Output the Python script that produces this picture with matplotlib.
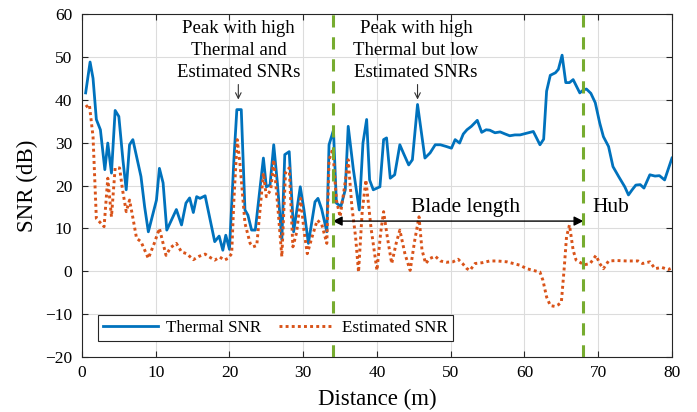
import matplotlib
matplotlib.use("Agg")
import matplotlib.pyplot as plt

# Thermal SNR along the blade (distance in m, SNR in dB)
thermal_x = [0.5, 1.1, 1.5, 1.95, 2.5, 3.1, 3.5, 4.0, 4.5, 5.0,
             5.55, 6.0, 6.45, 6.9, 8.0, 8.5, 9.0, 10.1, 10.5, 11.0,
             11.5, 12.8, 13.5, 14.1, 14.6, 15.1, 15.55, 16.0, 16.7, 17.4,
             18.0, 18.6, 19.1, 19.5, 20.0, 20.6, 21.0, 21.6, 22.1, 22.5,
             23.0, 23.5, 24.6, 25.0, 25.5, 26.0, 26.5, 27.1, 27.5, 28.1,
             28.7, 29.6, 30.1, 30.7, 31.6, 32.0, 32.5, 33.2, 33.5, 34.1,
             34.5, 35.1, 35.7, 36.1, 36.8, 37.6, 38.1, 38.6, 39.0, 39.5,
             40.4, 40.9, 41.3, 41.8, 42.4, 43.1, 43.6, 44.3, 44.8, 45.5,
             46.5, 47.2, 47.9, 48.6, 49.4, 50.1, 50.6, 51.2, 51.7, 52.2,
             52.8, 53.6, 54.2, 54.8, 55.3, 56.0, 56.7, 57.4, 58.0, 58.7,
             59.4, 60.3, 61.2, 62.1, 62.6, 63.0, 63.5, 64.2, 64.6, 65.1,
             65.6, 66.1, 66.6, 67.1, 67.5, 68.0, 68.4, 69.0, 69.6, 70.2,
             70.7, 71.4, 72.0, 72.8, 73.6, 74.1, 74.6, 75.1, 75.7, 76.2,
             77.0, 77.7, 78.3, 79.0, 80.0]
thermal_snr = [41.6, 48.8, 45.0, 35.4, 33.0, 23.7, 29.9, 22.9, 37.5, 36.1,
               26.0, 19.0, 29.5, 30.7, 22.1, 15.0, 9.2, 16.6, 24.0, 20.6,
               9.6, 14.4, 10.8, 15.9, 17.1, 13.7, 17.4, 17.0, 17.6, 11.9,
               6.9, 8.2, 4.9, 8.4, 5.1, 26.0, 37.7, 37.7, 14.3, 13.1,
               9.6, 9.6, 26.4, 19.7, 20.1, 29.5, 20.5, 7.3, 27.2, 27.9,
               9.2, 19.7, 14.3, 6.5, 16.2, 17.0, 14.5, 9.2, 29.5, 32.9,
               15.9, 15.1, 19.0, 33.8, 23.7, 14.3, 29.9, 35.4, 21.3, 19.0,
               19.7, 30.7, 31.1, 21.7, 22.5, 29.5, 27.5, 24.8, 26.0, 38.9,
               26.4, 27.6, 29.5, 29.5, 29.1, 28.7, 30.7, 29.9, 32.0, 33.0,
               33.8, 35.2, 32.4, 33.0, 32.9, 32.3, 32.5, 32.0, 31.6, 31.8,
               31.8, 32.2, 32.6, 29.5, 30.8, 42.0, 45.7, 46.3, 47.1, 50.4,
               44.0, 44.0, 44.7, 43.0, 41.6, 42.3, 42.5, 41.5, 39.3, 34.6,
               31.4, 29.1, 24.4, 22.0, 19.7, 17.8, 19.0, 20.1, 20.2, 19.4,
               22.5, 22.2, 22.3, 21.3, 26.4]

# Estimated SNR along the blade
est_x = [0.5, 1.0, 1.5, 1.95, 2.5, 3.0, 3.5, 4.0, 4.5, 5.1,
         5.5, 6.0, 6.45, 6.9, 7.4, 8.0, 9.0, 9.8, 10.5, 11.4,
         12.0, 12.8, 13.5, 14.2, 15.1, 15.9, 16.7, 17.4, 18.0, 18.7,
         19.3, 19.8, 20.3, 20.6, 21.05, 21.4, 22.1, 22.8, 23.2, 23.7,
         24.6, 25.0, 25.6, 26.0, 26.6, 27.1, 27.6, 28.1, 28.6, 29.1,
         29.65, 30.1, 30.55, 31.2, 31.9, 32.5, 33.2, 33.5, 34.0, 34.5,
         35.0, 35.6, 36.1, 36.6, 37.1, 37.5, 38.0, 38.5, 39.2, 40.0,
         40.5, 40.9, 41.4, 42.0, 42.6, 43.1, 43.8, 44.5, 45.1, 45.7,
         46.1, 46.6, 47.2, 47.9, 48.6, 49.4, 50.3, 51.0, 51.6, 52.2,
         52.6, 53.3, 54.3, 55.3, 56.3, 57.6, 58.5, 59.4, 60.3, 61.2,
         62.1, 62.5, 63.0, 63.5, 64.1, 64.6, 65.0, 65.4, 65.7, 66.1,
         66.6, 67.0, 67.4, 68.1, 68.9, 69.7, 70.2, 70.7, 71.4, 72.5,
         73.9, 75.4, 76.0, 77.0, 77.7, 78.6, 79.5, 80.0]
est_snr = [38.3, 38.9, 31.4, 12.3, 11.3, 10.4, 21.7, 12.7, 24.1, 24.1,
           19.0, 13.9, 16.6, 12.5, 7.7, 6.9, 3.0, 6.5, 10.0, 3.7,
           5.5, 6.5, 4.5, 4.1, 2.7, 3.5, 4.0, 3.2, 2.6, 3.3,
           2.6, 3.0, 4.1, 16.6, 30.7, 25.5, 11.2, 6.5, 5.7, 6.0,
           22.9, 17.4, 19.0, 26.0, 14.0, 3.4, 23.0, 24.1, 5.7, 9.0,
           17.0, 9.5, 4.1, 8.0, 11.9, 11.0, 6.5, 26.0, 28.5, 16.6,
           12.7, 19.7, 26.0, 15.0, 8.0, -0.2, 14.0, 21.3, 10.0, 0.2,
           9.0, 13.9, 8.0, 1.8, 6.5, 9.6, 4.0, 0.2, 7.0, 12.7,
           5.0, 1.8, 3.0, 3.5, 2.4, 2.1, 2.2, 2.8, 1.8, 0.6,
           0.2, 1.8, 2.0, 2.4, 2.4, 2.2, 1.8, 1.4, 0.6, 0.2,
           -0.2, -2.1, -6.0, -8.0, -8.2, -7.8, -7.2, 1.0, 8.0, 10.8,
           4.9, 2.6, 2.2, 1.5, 1.8, 3.7, 1.8, 0.6, 2.4, 2.5,
           2.4, 2.4, 1.8, 2.2, 0.6, 0.9, 0.4, 0.8]

# Blade tip and hub positions (m)
blade_start = 34
hub_pos = 68

x_ticks = [0, 10, 20, 30, 40, 50, 60, 70, 80]
y_ticks = [-20, -10, 0, 10, 20, 30, 40, 50, 60]

plt.rcParams["font.family"] = ["Liberation Serif", "DejaVu Serif"]

fig = plt.figure(figsize=(6.97, 4.12), dpi=100)
ax = fig.add_axes([0.1176, 0.1335, 0.8465, 0.8325])

ax.plot(thermal_x, thermal_snr, color="#0072BD", lw=2.0, label="Thermal SNR", zorder=3)
ax.plot(est_x, est_snr, color="#D95319", lw=2.1, ls=(0, (1, 1.1)), label="Estimated SNR", zorder=3)

for xv in (blade_start, hub_pos):
    ax.axvline(xv, color="#77AC30", lw=2.2, ls=(0, (4, 3.2)), zorder=4)

ax.set_xlim(0, 80)
ax.set_ylim(-20, 60)
ax.set_xticks(x_ticks)
ax.set_yticks(y_ticks)
ax.grid(True, color="#DCDCDC", lw=0.8)
ax.set_axisbelow(True)
ax.tick_params(direction="in", top=True, right=True, labelsize=12.5, length=4,
               width=0.8, colors="#262626", labelcolor="black")
ax.tick_params(axis="x", pad=6)
ax.tick_params(axis="y", pad=7)
for s in ax.spines.values():
    s.set_color("#262626")
    s.set_linewidth(0.8)

ax.set_xlabel("Distance (m)", fontsize=16.5, labelpad=5.5)
ax.set_ylabel("SNR (dB)", fontsize=16.5, labelpad=5)

# Peak annotations
ax.annotate("", xy=(21.2, 39.4), xytext=(21.2, 44.2),
            arrowprops=dict(arrowstyle="->", color="#333333", lw=0.8))
ax.text(21.2, 45.3, "Peak with high\nThermal and\nEstimated SNRs", ha="center", va="baseline",
        fontsize=13.5, linespacing=1.4)
ax.annotate("", xy=(45.5, 39.4), xytext=(45.5, 44.2),
            arrowprops=dict(arrowstyle="->", color="#333333", lw=0.8))
ax.text(45.3, 45.3, "Peak with high\nThermal but low\nEstimated SNRs", ha="center", va="baseline",
        fontsize=13.5, linespacing=1.4)

# Blade length double arrow and hub label
ax.annotate("", xy=(blade_start, 11.7), xytext=(hub_pos, 11.7),
            arrowprops=dict(arrowstyle="<|-|>", color="black", lw=1.0,
                            mutation_scale=14, shrinkA=0, shrinkB=0))
ax.text(52.0, 12.6, "Blade length", ha="center", va="bottom", fontsize=15.5)
ax.text(69.2, 12.6, "Hub", ha="left", va="bottom", fontsize=15.5)

leg = ax.legend(loc="lower left", bbox_to_anchor=(0.027, 0.047), borderaxespad=0,
                ncol=2, fontsize=12.3, handlelength=3.2, columnspacing=1.0,
                fancybox=False, framealpha=1, edgecolor="#262626", borderpad=0.3,
                handletextpad=0.5)
leg.get_frame().set_linewidth(0.8)

fig.savefig("out.png", dpi=100)
